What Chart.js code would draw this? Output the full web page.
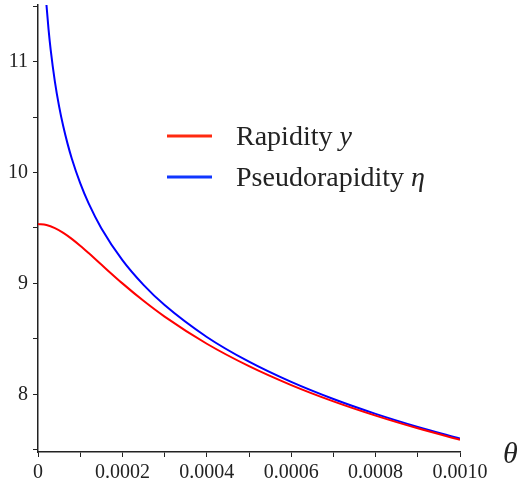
<!DOCTYPE html>
<html>
<head>
<meta charset="utf-8">
<script src="https://cdn.jsdelivr.net/npm/chart.js@4.4.1/dist/chart.umd.min.js"></script>
<style>
  html, body { margin: 0; padding: 0; background: #fff; }
  #wrap { position: relative; width: 525px; height: 481px; }
</style>
</head>
<body>
<div id="wrap"><canvas id="c" width="525" height="481"></canvas></div>
<script>
// theta values (radians)
const thetaEta = [0.000015, 0.0000175, 0.00002, 0.000025, 0.00003, 0.00004, 0.00005, 0.00006, 0.00007, 0.00008,
  0.0001, 0.00012, 0.00015, 0.0002, 0.00025, 0.0003, 0.0004, 0.0005, 0.0006, 0.0007, 0.0008, 0.0009, 0.001];
const etaValues = [11.8006, 11.6465, 11.5129, 11.2898, 11.1075, 10.8198, 10.5966, 10.4143, 10.2602, 10.1266,
  9.9035, 9.7212, 9.4980, 9.2103, 8.9872, 8.8049, 8.5172, 8.2941, 8.1117, 7.9576, 7.8240, 7.7063, 7.6009];

const thetaY = [0, 0.00002, 0.00004, 0.00006, 0.00008, 0.0001, 0.00012, 0.00015, 0.0002, 0.00025, 0.0003,
  0.0004, 0.0005, 0.0006, 0.0007, 0.0008, 0.0009, 0.001];
const rapidityValues = [9.5354, 9.5259, 9.4985, 9.4559, 9.4017, 9.3397, 9.2731, 9.1698, 9.0003, 8.8431, 8.7006,
  8.4559, 8.2539, 8.0835, 7.9367, 7.8080, 7.6935, 7.5906];

const xTicks = [0, 0.0001, 0.0002, 0.0003, 0.0004, 0.0005, 0.0006, 0.0007, 0.0008, 0.0009, 0.001];
const xTickLabels = ['0', '', '0.0002', '', '0.0004', '', '0.0006', '', '0.0008', '', '0.0010'];
const yTicks = [7.5, 8, 8.5, 9, 9.5, 10, 10.5, 11, 11.5];
const yTickLabels = ['', '8', '', '9', '', '10', '', '11', ''];

const seriesNames = ['Rapidity ', 'Pseudorapidity '];
const seriesSymbols = ['y', 'η'];

const serif = '"Liberation Serif", "DejaVu Serif", serif';

const overlay = {
  id: 'overlay',
  afterDraw(chart) {
    const ctx = chart.ctx;
    ctx.save();
    const rows = [
      { lineY: 136, base: 145, color: '#ff2a10' },
      { lineY: 177, base: 186, color: '#1036ff' }
    ];
    rows.forEach((r, i) => {
      ctx.strokeStyle = r.color;
      ctx.lineWidth = 3;
      ctx.beginPath();
      ctx.moveTo(167, r.lineY);
      ctx.lineTo(212, r.lineY);
      ctx.stroke();
      ctx.fillStyle = '#222';
      ctx.textBaseline = 'alphabetic';
      ctx.textAlign = 'left';
      ctx.font = '28px ' + serif;
      ctx.fillText(seriesNames[i], 236, r.base);
      const w = ctx.measureText(seriesNames[i]).width;
      ctx.font = 'italic 28px ' + serif;
      ctx.fillText(seriesSymbols[i], 236 + w, r.base);
    });
    ctx.font = 'italic 30px ' + serif;
    ctx.fillStyle = '#222';
    ctx.fillText('θ', 503, 463);
    ctx.restore();
  }
};

new Chart(document.getElementById('c'), {
  type: 'line',
  data: {
    datasets: [
      {
        label: 'Rapidity y',
        data: thetaY.map((t, i) => ({ x: t, y: rapidityValues[i] })),
        borderColor: '#ff0000',
        borderWidth: 2,
        pointRadius: 0,
        cubicInterpolationMode: 'monotone',
        fill: false
      },
      {
        label: 'Pseudorapidity η',
        data: thetaEta.map((t, i) => ({ x: t, y: etaValues[i] })),
        borderColor: '#0000ff',
        borderWidth: 2,
        pointRadius: 0,
        cubicInterpolationMode: 'monotone',
        fill: false
      }
    ]
  },
  options: {
    responsive: false,
    animation: false,
    layout: { padding: { top: 5, right: 65, left: 0, bottom: 0 } },
    plugins: { legend: { display: false }, tooltip: { enabled: false } },
    scales: {
      x: {
        type: 'linear',
        min: 0,
        max: 0.001,
        afterBuildTicks: s => { s.ticks = xTicks.map(v => ({ value: v })); },
        afterFit: s => { s.height = 29; },
        ticks: {
          autoSkip: false,
          maxRotation: 0,
          padding: 4,
          color: '#222',
          font: { family: serif, size: 20 },
          callback: (v, i) => xTickLabels[i]
        },
        grid: { drawOnChartArea: false, color: '#222', tickLength: 5, lineWidth: 1 },
        border: { color: '#222', width: 1.5 }
      },
      y: {
        min: 7.48,
        max: 11.51,
        afterBuildTicks: s => { s.ticks = yTicks.map(v => ({ value: v })); },
        afterFit: s => { s.width = 38; s.paddingTop = 0; s.paddingBottom = 0; },
        ticks: {
          autoSkip: false,
          padding: 5,
          color: '#222',
          font: { family: serif, size: 20 },
          callback: (v, i) => yTickLabels[i]
        },
        grid: { drawOnChartArea: false, color: '#222', tickLength: 5, lineWidth: 1 },
        border: { color: '#222', width: 1.5 }
      }
    }
  },
  plugins: [overlay]
});
</script>
</body>
</html>
